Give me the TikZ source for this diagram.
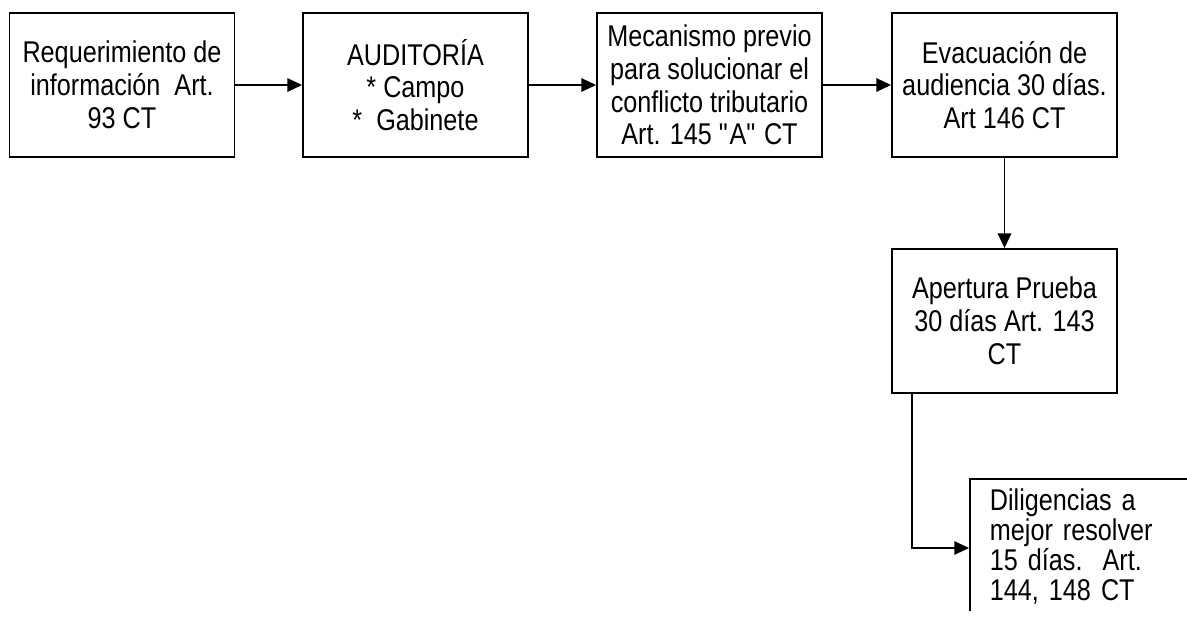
\documentclass[tikz,border=0pt]{standalone}
\usepackage{fontspec}
\setmainfont{Liberation Sans}
\newfontfamily\boxfont[FakeStretch=0.84]{Liberation Sans}
\usetikzlibrary{arrows.meta,calc}
\begin{document}
\begin{tikzpicture}[x=0.75pt,y=-0.75pt,
  every node/.style={font=\boxfont\fontsize{22.5pt}{24.6pt}\selectfont},
  stepbox/.style={draw,line width=1.4pt,rectangle,minimum width=168.75pt,
    minimum height=108pt,align=center,inner xsep=2pt,inner ysep=2pt},
  flow/.style={line width=1.4pt,-{Triangle[length=11pt,width=10pt]}}]
\useasboundingbox (0,0) rectangle (1187,618);
% main row of steps
\node[stepbox] (req) at (122,85) {Requerimiento de\\información\ \ Art.\\93 CT};
\node[stepbox] (aud) at (415.5,85) {AUDITORÍA\\* Campo\\*\ \ Gabinete};
\node[stepbox] (mec) at (709.5,85) {Mecanismo previo\\para solucionar el\\conflicto tributario\\Art. 145 \textquotedbl A\textquotedbl\ CT};
\node[stepbox] (eva) at (1004.5,85) {Evacuación de\\audiencia 30 días.\\Art 146 CT};
% descending branch
\node[stepbox] (ape) at (1004.5,321) {Apertura Prueba\\30 días Art. 143\\CT};
\begin{scope}
  \clip (0,0) rectangle (1187,610);
  \node[draw,line width=1.4pt,anchor=north west,align=left,text width=157.5pt,
    inner xsep=15pt,inner ysep=7pt,
    font=\boxfont\fontsize{22.5pt}{22.6pt}\selectfont] (dil) at (969,478)
    {Diligencias a\\mejor resolver\\15 días.\ \ Art.\\144, 148 CT};
\end{scope}
% connectors
\draw[flow] (req.east) -- (aud.west);
\draw[flow] (aud.east) -- (mec.west);
\draw[flow] (mec.east) -- (eva.west);
\draw[flow] (eva.south) -- (ape.north);
\coordinate (bend) at ($(ape.south west)+(21,0)$);
\draw[flow] (bend) |- ($(dil.north west)+(0,70)$);
\end{tikzpicture}
\end{document}
